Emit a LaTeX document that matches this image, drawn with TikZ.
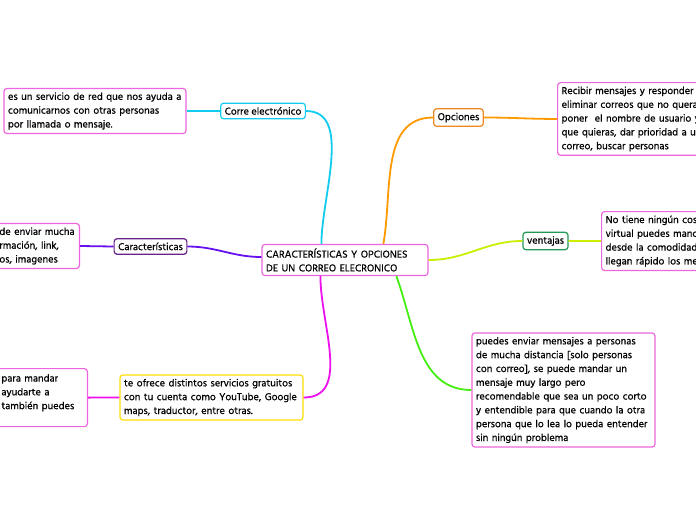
\documentclass[tikz,border=0pt]{standalone}
\usepackage{fontspec}
\setmainfont{Hind Siliguri}[FakeBold=0.7]
\usepackage{tikz}
\usetikzlibrary{positioning, calc}
\definecolor{mPink}{HTML}{EE66DD}
\definecolor{mCyan}{HTML}{11CCEE}
\definecolor{mViolet}{HTML}{6611EE}
\definecolor{mPurple}{HTML}{662288}
\definecolor{mOrange}{HTML}{FF9900}
\definecolor{mOrangeB}{HTML}{EE8822}
\definecolor{mLime}{HTML}{CCEE00}
\definecolor{mTeal}{HTML}{229955}
\definecolor{mGreen}{HTML}{44EE11}
\definecolor{mMagenta}{HTML}{EE11EE}
\definecolor{mYellow}{HTML}{FFDD00}

\begin{document}
\begin{tikzpicture}[x=1pt, y=-1pt,
  box/.style={draw, fill=white, rounded corners=3pt, line width=1.2pt,
              inner sep=4pt, align=left, font=\fontsize{10.4}{13.8}\selectfont},
  topic/.style={box, draw=#1},
  leaf/.style={box, draw=mPink, text width=#1},
  link/.style={draw=#1, line width=1.8pt},
]
  \useasboundingbox (0,0) rectangle (696,520);
  \clip (0,0) rectangle (696,520);
  \fill[white] (0,0) rectangle (696,520);

  % centre
  \node[leaf=158pt] (central) at (345,260) {CARACTERÍSTICAS Y OPCIONES\\DE UN CORREO ELECRONICO};

  % first level
  \node[topic=mCyan] (corre) at (263,111) {Corre electrónico};
  \node[topic=mPurple] (caract) at (150.5,246.5) {Características};
  \node[topic=mOrangeB] (opciones) at (458.5,117.5) {Opciones};
  \node[topic=mTeal] (ventajas) at (545.5,241) {ventajas};
  \node[topic=mYellow, text width=175pt] (servicios) at (211.5,397.5)
    {te ofrece distintos servicios gratuitos\\con tu cuenta como YouTube, Google\\maps, traductor, entre otras.};

  % leaves
  \node[leaf=174pt] (defRed) at (95,111)
    {es un servicio de red que nos ayuda a\\comunicarnos con otras personas\\por llamada o mensaje.};
  \node[leaf=76pt, anchor=east] (enviar) at (80,246)
    {de enviar mucha\\rmación, link,\\os, imagenes};
  \node[leaf=82pt, anchor=north east, text height=9pt, text depth=41pt] (mandar) at (88,368)
    {para mandar\\ayudarte a\\también puedes};
  \node[leaf=170pt, anchor=north west] (recibir) at (557,82)
    {Recibir mensajes y responder\\eliminar correos que no quera\\poner\ \ el nombre de usuario y\\que quieras, dar prioridad a u\\correo, buscar personas};
  \node[leaf=130pt, anchor=north west] (costo) at (601,211)
    {No tiene ningún cos\\virtual puedes manc\\desde la comodidad\\llegan rápido los me};
  \node[leaf=175pt] (distancia) at (563.5,390)
    {puedes enviar mensajes a personas\\de mucha distancia [solo personas\\con correo], se puede mandar un\\mensaje muy largo pero\\recomendable que sea un poco corto\\y entendible para que cuando la otra\\persona que lo lea lo pueda entender\\sin ningún problema};

  % connectors
  \path[link=mCyan] (corre.east) to[out=0, in=90, looseness=0.9] ([xshift=60pt]central.north west);
  \path[link=mViolet] (caract.east) to[out=0, in=180] ([yshift=3pt]central.west);
  \path[link=mOrange] ([xshift=122pt]central.north west) to[out=80, in=180] (opciones.west);
  \path[link=mLime] (central.east) to[out=0, in=180] (ventajas.west);
  \path[link=mMagenta] ([xshift=59pt]central.south west) to[out=-90, in=0] (servicios.east);
  \path[link=mGreen] ([xshift=135pt]central.south west) to[out=-70, in=180] (distancia.west);

  \path[link=mCyan] (corre.west) -- (defRed.east);
  \path[link=mViolet] (caract.west) -- (enviar.east);
  \path[link=mOrange] (opciones.east) to[out=0, in=180] (recibir.west);
  \path[link=mLime] (ventajas.east) -- (costo.west);
  \path[link=mMagenta] (servicios.west) -- (mandar.east);
\end{tikzpicture}
\end{document}
